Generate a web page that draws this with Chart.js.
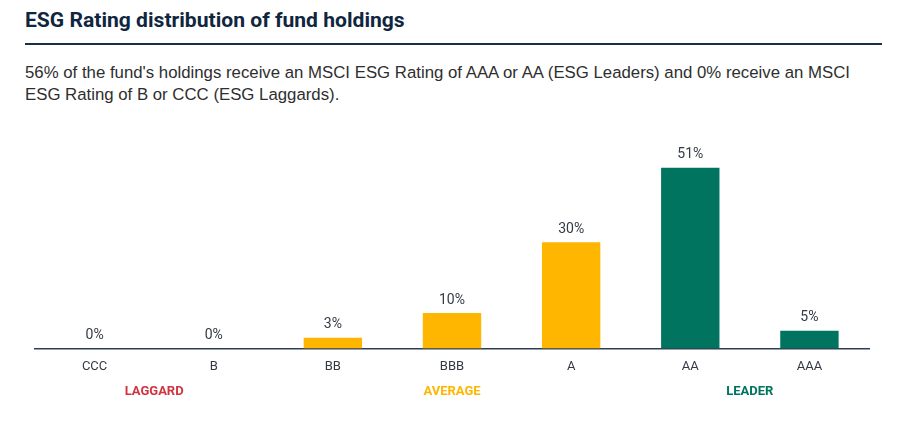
<!DOCTYPE html>
<html><head><meta charset="utf-8">
<script src="https://cdn.jsdelivr.net/npm/chart.js@4"></script>
<style>
html,body{margin:0;padding:0;background:#fff;width:900px;height:422px;overflow:hidden;position:relative}
#title{position:absolute;left:25px;top:7px;font-family:Roboto;font-weight:700;font-size:21.1px;color:#10263f;white-space:nowrap}
#rule{position:absolute;left:25px;top:43px;width:857px;height:2px;background:#1a2e48}
#sub{position:absolute;left:25px;top:62px;font-family:"Liberation Sans",Arial;font-size:16.8px;line-height:22px;color:#2e2e2e;white-space:nowrap}
#wrap{position:absolute;left:0;top:130px;width:900px;height:292px}
</style></head><body>
<div id="title">ESG Rating distribution of fund holdings</div>
<div id="rule"></div>
<div id="sub">56% of the fund's holdings receive an MSCI ESG Rating of AAA or AA (ESG Leaders) and 0% receive an MSCI<br>ESG Rating of B or CCC (ESG Laggards).</div>
<div id="wrap"><canvas id="c"></canvas></div>
<script>
const categories = ["CCC","B","BB","BBB","A","AA","AAA"];
const values = [0,0,3,10,30,51,5];
const barColors = ["#FFB600","#FFB600","#FFB600","#FFB600","#FFB600","#00745F","#00745F"];
const groups = [
  {label:"LAGGARD", from:0, to:1, color:"#D1343F"},
  {label:"AVERAGE", from:2, to:4, color:"#FFB600"},
  {label:"LEADER", from:5, to:6, color:"#00745F"}
];

const valueLabels = {
  id:"valueLabels",
  afterDatasetsDraw(chart){
    const ctx = chart.ctx;
    const meta = chart.getDatasetMeta(0);
    ctx.save();
    ctx.font = "14px Roboto";
    ctx.fillStyle = "#333a44";
    ctx.textAlign = "center";
    ctx.textBaseline = "middle";
    meta.data.forEach((bar,i)=>{
      ctx.fillText(values[i]+"%", bar.x, bar.y-13);
    });
    ctx.restore();
  }
};
const groupLabels = {
  id:"groupLabels",
  afterDraw(chart){
    const ctx = chart.ctx;
    const xs = chart.scales.x;
    const y = chart.chartArea.bottom + 43.5;
    ctx.save();
    ctx.font = "bold 13px Roboto";
    ctx.textAlign = "center";
    ctx.textBaseline = "middle";
    groups.forEach(g=>{
      const x = (xs.getPixelForValue(g.from)+xs.getPixelForValue(g.to))/2;
      ctx.fillStyle = g.color;
      ctx.fillText(g.label, x, y);
    });
    ctx.restore();
  }
};

new Chart(document.getElementById("c"),{
  type:"bar",
  data:{labels:categories,datasets:[{data:values,backgroundColor:barColors,barPercentage:0.49,categoryPercentage:1}]},
  options:{
    responsive:true,maintainAspectRatio:false,animation:false,
    layout:{padding:{left:35,right:31,top:6,bottom:36}},
    plugins:{legend:{display:false},tooltip:{enabled:false}},
    scales:{
      x:{grid:{display:false,drawTicks:false},border:{display:true,color:"#2c3e55",width:1.5},
         ticks:{color:"#333a44",font:{family:"Roboto",size:13},padding:11}},
      y:{display:false,min:0,max:60}
    }
  },
  plugins:[valueLabels,groupLabels]
});
</script>
</body></html>
